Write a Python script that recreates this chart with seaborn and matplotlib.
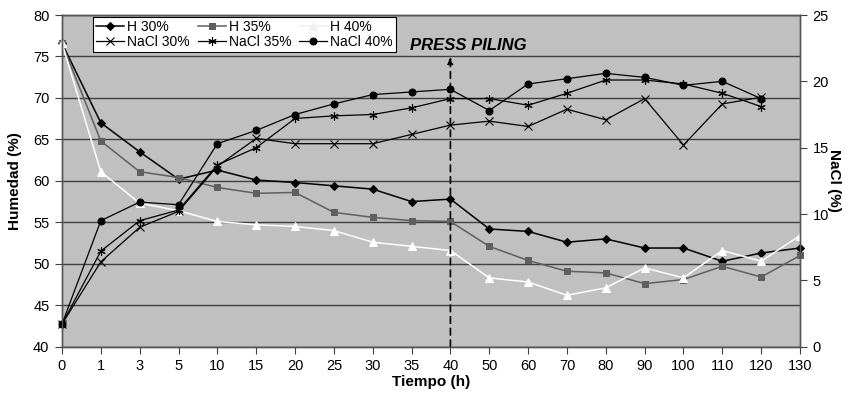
import numpy as np
import pandas as pd
import seaborn as sns
import matplotlib
matplotlib.use("Agg")
import matplotlib.pyplot as plt

# x categories (hours) - plotted evenly spaced like the original category axis
tiempo = ["0", "1", "3", "5", "10", "15", "20", "25", "30", "35",
          "40", "50", "60", "70", "80", "90", "100", "110", "120", "130"]

# Humedad (%) - left axis
h30 = [76.6, 67.0, 63.5, 60.2, 61.3, 60.1, 59.8, 59.4, 59.0, 57.5,
       57.8, 54.2, 53.9, 52.6, 53.0, 51.9, 51.9, 50.3, 51.3, 51.9]
h35 = [76.6, 64.8, 61.1, 60.4, 59.2, 58.5, 58.6, 56.2, 55.6, 55.2,
       55.1, 52.1, 50.4, 49.1, 48.9, 47.6, 48.1, 49.7, 48.4, 51.0]
h40 = [76.6, 61.1, 57.3, 56.4, 55.1, 54.7, 54.5, 54.0, 52.6, 52.1,
       51.6, 48.3, 47.8, 46.2, 47.1, 49.5, 48.3, 51.6, 50.3, 53.4]

# NaCl (%) - right axis (measured up to 120 h)
nacl30 = [1.7, 6.4, 9.0, 10.2, 13.6, 15.7, 15.3, 15.3, 15.3, 16.0,
          16.7, 17.0, 16.6, 17.9, 17.1, 18.7, 15.2, 18.3, 18.8]
nacl35 = [1.7, 7.2, 9.5, 10.3, 13.7, 15.0, 17.2, 17.4, 17.5, 18.0,
          18.7, 18.7, 18.2, 19.1, 20.1, 20.1, 19.8, 19.1, 18.1]
nacl40 = [1.7, 9.5, 10.9, 10.7, 15.3, 16.3, 17.5, 18.3, 19.0, 19.2,
          19.4, 17.8, 19.8, 20.2, 20.6, 20.3, 19.7, 20.0, 18.7]

plt.rcParams["font.family"] = ["Liberation Sans", "DejaVu Sans"]

fig = plt.figure(figsize=(8.56, 3.95), dpi=100)
ax = fig.add_axes([0.0724, 0.1223, 0.8622, 0.8397])
ax2 = ax.twinx()

ax.set_facecolor("#c0c0c0")
ax2.patch.set_visible(False)

xpos = np.arange(len(tiempo))

h_series = [
    ("H 30%", h30, dict(color="black", marker="D", markersize=4, markerfacecolor="black", markeredgecolor="black")),
    ("H 35%", h35, dict(color="#5f5f5f", marker="s", markersize=5, markerfacecolor="#5f5f5f", markeredgecolor="#5f5f5f")),
    ("H 40%", h40, dict(color="white", marker="^", markersize=6, markerfacecolor="white", markeredgecolor="white")),
]
n_series = [
    ("NaCl 30%", nacl30, dict(color="black", marker="x", markersize=6, markeredgecolor="black", markeredgewidth=0.8)),
    ("NaCl 35%", nacl35, dict(color="black", marker=(6, 2, 0), markersize=6, markeredgecolor="black", markeredgewidth=0.8)),
    ("NaCl 40%", nacl40, dict(color="black", marker="o", markersize=5, markerfacecolor="black", markeredgecolor="black")),
]

for name, vals, kw in h_series:
    sns.lineplot(x=xpos[:len(vals)], y=vals, ax=ax, label=name, linewidth=1.1,
                 legend=False, clip_on=False, **kw)
for name, vals, kw in n_series:
    sns.lineplot(x=xpos[:len(vals)], y=vals, ax=ax2, label=name, linewidth=0.9,
                 legend=False, clip_on=False, **kw)

ax.set_xlim(0, len(tiempo) - 1)
ax.set_ylim(40, 80)
ax2.set_ylim(0, 25)
ax.set_yticks(np.arange(40, 81, 5))
ax2.set_yticks(np.arange(0, 26, 5))
ax.set_xticks(xpos)
ax.set_xticklabels(tiempo)

ax.grid(axis="y", color="#404040", linewidth=1)
ax.grid(axis="x", visible=False)
ax.set_axisbelow(True)

for a in (ax, ax2):
    a.tick_params(axis="both", labelsize=10.5, length=5, width=0.8, color="#404040", direction="out", pad=4)
    for s in a.spines.values():
        s.set_color("#555555")
        s.set_linewidth(1)

ax.set_xlabel("Tiempo (h)", fontsize=11, fontweight="bold", labelpad=1)
ax.set_ylabel("Humedad (%)", fontsize=11, fontweight="bold", labelpad=8)
ax2.set_ylabel("NaCl (%)", fontsize=11, fontweight="bold", rotation=-90, labelpad=9)

# Press piling marker
ax.annotate("", xy=(10, 75.0), xytext=(10, 40),
            arrowprops=dict(arrowstyle="-|>,head_length=0.4,head_width=0.15",
                            linestyle=(0, (4, 3)), color="black", lw=1.2,
                            shrinkA=0, shrinkB=0))
ax.text(10.45, 76.3, "PRESS PILING", fontsize=12, fontweight="bold", fontstyle="italic",
        ha="center", va="center")

# Legend: row 1 humidity, row 2 NaCl
h1, l1 = ax.get_legend_handles_labels()
h2, l2 = ax2.get_legend_handles_labels()
handles, labels = [], []
for i in range(3):
    handles += [h1[i], h2[i]]
    labels += [l1[i], l2[i]]
leg = ax2.legend(handles, labels, ncol=3, loc="upper left", bbox_to_anchor=(0.042, 0.995),
                 fontsize=10, frameon=True, fancybox=False, edgecolor="black",
                 framealpha=1, borderpad=0.25, labelspacing=0.05, handlelength=2.0,
                 handletextpad=0.2, columnspacing=0.6, borderaxespad=0)
leg.get_frame().set_linewidth(0.8)
leg.legend_handles[4].set_color("#f0f0f0")
leg.legend_handles[4].set_markerfacecolor("#f0f0f0")
leg.legend_handles[4].set_markeredgecolor("#f0f0f0")

fig.savefig("out.png", dpi=100)
